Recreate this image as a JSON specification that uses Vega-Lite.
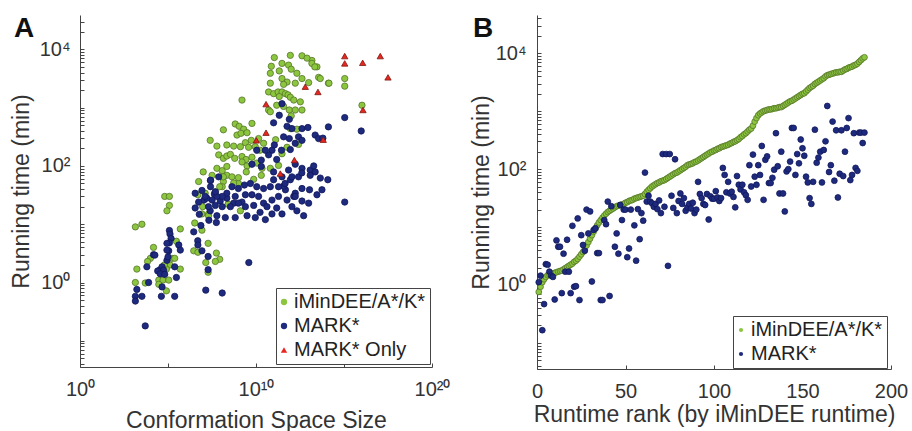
{
  "$schema": "https://vega.github.io/schema/vega-lite/v6.json",
  "background": "white",
  "padding": {"left": 10, "top": 8, "right": 0, "bottom": 0},
  "spacing": 20,
  "resolve": {"scale": {"color": "independent", "shape": "independent", "size": "independent", "stroke": "independent"}},
  "config": {
    "view": {"stroke": null},
    "font": "Liberation Sans",
    "axis": {
      "grid": false,
      "domainColor": "#444",
      "tickColor": "#444",
      "labelColor": "#333",
      "titleColor": "#333",
      "labelFont": "Liberation Sans",
      "titleFont": "Liberation Sans",
      "labelFontSize": 20,
      "titleFontSize": 23,
      "titleFontWeight": "normal",
      "labelFlush": false,
      "labelOverlap": false,
      "labelBound": false,
      "tickSize": -4,
      "domainWidth": 1,
      "tickWidth": 1
    },
    "legend": {
      "orient": "none",
      "padding": 4,
      "strokeColor": "#444",
      "fillColor": "white",
      "labelFont": "Liberation Sans",
      "labelFontSize": 20,
      "labelColor": "#222",
      "symbolSize": 18,
      "symbolStrokeWidth": 0,
      "rowPadding": 4,
      "labelOffset": 0,
      "symbolOffset": -6,
      "labelLimit": 400,
      "cornerRadius": 0
    }
  },
  "datasets": {
    "panelA": [
      {"size":8.9e11,"time":7900,"method":"iMinDEE/A*/K*"},{"size":4.1e12,"time":7760,"method":"iMinDEE/A*/K*"},{"size":1.1e11,"time":7240,"method":"iMinDEE/A*/K*"},{"size":3.0e11,"time":5750,"method":"iMinDEE/A*/K*"},{"size":7.1e11,"time":5370,"method":"iMinDEE/A*/K*"},{"size":1.5e13,"time":6460,"method":"iMinDEE/A*/K*"},{"size":7.4e10,"time":5130,"method":"iMinDEE/A*/K*"},{"size":2.1e11,"time":4270,"method":"iMinDEE/A*/K*"},{"size":1.0e12,"time":4570,"method":"iMinDEE/A*/K*"},{"size":2.1e12,"time":3890,"method":"iMinDEE/A*/K*"},{"size":2.9e13,"time":5010,"method":"iMinDEE/A*/K*"},{"size":4.1e12,"time":3160,"method":"iMinDEE/A*/K*"},{"size":3.6e13,"time":3310,"method":"iMinDEE/A*/K*"},{"size":1.3e14,"time":2630,"method":"iMinDEE/A*/K*"},{"size":6.5e10,"time":3890,"method":"iMinDEE/A*/K*"},{"size":3.0e11,"time":3160,"method":"iMinDEE/A*/K*"},{"size":5.8e11,"time":2750,"method":"iMinDEE/A*/K*"},{"size":3.7e11,"time":2510,"method":"iMinDEE/A*/K*"},{"size":1.7e12,"time":2630,"method":"iMinDEE/A*/K*"},{"size":9.8e12,"time":2690,"method":"iMinDEE/A*/K*"},{"size":6.5e10,"time":2630,"method":"iMinDEE/A*/K*"},{"size":5.2e10,"time":1860,"method":"iMinDEE/A*/K*"},{"size":1.0e11,"time":1740,"method":"iMinDEE/A*/K*"},{"size":1.8e11,"time":1860,"method":"iMinDEE/A*/K*"},{"size":3.0e11,"time":1860,"method":"iMinDEE/A*/K*"},{"size":4.7e11,"time":1740,"method":"iMinDEE/A*/K*"},{"size":6.6e11,"time":1660,"method":"iMinDEE/A*/K*"},{"size":8.9e11,"time":1510,"method":"iMinDEE/A*/K*"},{"size":1.4e12,"time":1350,"method":"iMinDEE/A*/K*"},{"size":2.1e11,"time":1550,"method":"iMinDEE/A*/K*"},{"size":1.5e11,"time":1100,"method":"iMinDEE/A*/K*"},{"size":3.7e11,"time":1050,"method":"iMinDEE/A*/K*"},{"size":7.8e11,"time":912,"method":"iMinDEE/A*/K*"},{"size":1.7e12,"time":912,"method":"iMinDEE/A*/K*"},{"size":4.1e12,"time":912,"method":"iMinDEE/A*/K*"},{"size":3.3e12,"time":1260,"method":"iMinDEE/A*/K*"},{"size":1.0e12,"time":724,"method":"iMinDEE/A*/K*"},{"size":2.1e12,"time":427,"method":"iMinDEE/A*/K*"},{"size":1.6e9,"time":1350,"method":"iMinDEE/A*/K*"},{"size":5.2e10,"time":912,"method":"iMinDEE/A*/K*"},{"size":6.5e10,"time":851,"method":"iMinDEE/A*/K*"},
      {"size":1.4e8,"time":417,"method":"iMinDEE/A*/K*"},{"size":6.6e8,"time":525,"method":"iMinDEE/A*/K*"},{"size":1.1e9,"time":479,"method":"iMinDEE/A*/K*"},{"size":2.0e9,"time":427,"method":"iMinDEE/A*/K*"},{"size":5.9e9,"time":537,"method":"iMinDEE/A*/K*"},{"size":8.3e8,"time":339,"method":"iMinDEE/A*/K*"},{"size":1.4e9,"time":363,"method":"iMinDEE/A*/K*"},{"size":3.1e9,"time":372,"method":"iMinDEE/A*/K*"},{"size":5.4e9,"time":275,"method":"iMinDEE/A*/K*"},{"size":1.4e10,"time":295,"method":"iMinDEE/A*/K*"},{"size":2.7e10,"time":245,"method":"iMinDEE/A*/K*"},{"size":1.3e11,"time":282,"method":"iMinDEE/A*/K*"},{"size":2.5e7,"time":275,"method":"iMinDEE/A*/K*"},{"size":6.0e7,"time":219,"method":"iMinDEE/A*/K*"},{"size":2.2e8,"time":229,"method":"iMinDEE/A*/K*"},{"size":5.4e8,"time":219,"method":"iMinDEE/A*/K*"},{"size":1.3e9,"time":214,"method":"iMinDEE/A*/K*"},{"size":2.5e9,"time":251,"method":"iMinDEE/A*/K*"},{"size":3.8e9,"time":209,"method":"iMinDEE/A*/K*"},{"size":9.1e9,"time":214,"method":"iMinDEE/A*/K*"},{"size":1.7e10,"time":186,"method":"iMinDEE/A*/K*"},{"size":7.6e7,"time":155,"method":"iMinDEE/A*/K*"},{"size":1.4e8,"time":135,"method":"iMinDEE/A*/K*"},{"size":2.2e8,"time":148,"method":"iMinDEE/A*/K*"},{"size":3.5e8,"time":158,"method":"iMinDEE/A*/K*"},{"size":6.2e8,"time":135,"method":"iMinDEE/A*/K*"},{"size":1.6e9,"time":145,"method":"iMinDEE/A*/K*"},{"size":2.7e9,"time":129,"method":"iMinDEE/A*/K*"},{"size":5.9e9,"time":141,"method":"iMinDEE/A*/K*"},{"size":1.1e10,"time":112,"method":"iMinDEE/A*/K*"},{"size":6.0e7,"time":91,"method":"iMinDEE/A*/K*"},{"size":1.2e8,"time":83,"method":"iMinDEE/A*/K*"},{"size":2.2e8,"time":98,"method":"iMinDEE/A*/K*"},{"size":1.6e9,"time":117,"method":"iMinDEE/A*/K*"},{"size":3.1e9,"time":100,"method":"iMinDEE/A*/K*"},{"size":1.0e7,"time":79,"method":"iMinDEE/A*/K*"},{"size":3.2e7,"time":69,"method":"iMinDEE/A*/K*"},{"size":2.2e8,"time":69,"method":"iMinDEE/A*/K*"},{"size":1.4e8,"time":54,"method":"iMinDEE/A*/K*"},{"size":4.3e8,"time":65,"method":"iMinDEE/A*/K*"},{"size":1.0e9,"time":50,"method":"iMinDEE/A*/K*"},{"size":2.8e9,"time":79,"method":"iMinDEE/A*/K*"},{"size":7.4e9,"time":59,"method":"iMinDEE/A*/K*"},{"size":2.2e10,"time":91,"method":"iMinDEE/A*/K*"},{"size":2.0e10,"time":69,"method":"iMinDEE/A*/K*"},{"size":6.5e10,"time":91,"method":"iMinDEE/A*/K*"},{"size":1.9e11,"time":102,"method":"iMinDEE/A*/K*"},{"size":3.0e11,"time":162,"method":"iMinDEE/A*/K*"},{"size":5.8e11,"time":209,"method":"iMinDEE/A*/K*"},{"size":2.6e12,"time":234,"method":"iMinDEE/A*/K*"},{"size":8.9e11,"time":437,"method":"iMinDEE/A*/K*"},{"size":8.5e6,"time":15,"method":"iMinDEE/A*/K*"},{"size":2.0e7,"time":15,"method":"iMinDEE/A*/K*"},{"size":1.3e9,"time":17,"method":"iMinDEE/A*/K*"},{"size":1.2e8,"time":44,"method":"iMinDEE/A*/K*"},{"size":1.3e7,"time":34,"method":"iMinDEE/A*/K*"},{"size":4.9e7,"time":36,"method":"iMinDEE/A*/K*"},
      {"size":1.4e3,"time":9.0,"method":"iMinDEE/A*/K*"},{"size":3.3e3,"time":10,"method":"iMinDEE/A*/K*"},{"size":6.5e4,"time":30,"method":"iMinDEE/A*/K*"},{"size":1.2e5,"time":30,"method":"iMinDEE/A*/K*"},{"size":1.2e5,"time":21,"method":"iMinDEE/A*/K*"},{"size":8.7e4,"time":17,"method":"iMinDEE/A*/K*"},{"size":5.5e6,"time":54,"method":"iMinDEE/A*/K*"},{"size":5.0e5,"time":8.3,"method":"iMinDEE/A*/K*"},{"size":3.0e5,"time":5.1,"method":"iMinDEE/A*/K*"},{"size":1.5e4,"time":4.0,"method":"iMinDEE/A*/K*"},{"size":1.0e4,"time":2.6,"method":"iMinDEE/A*/K*"},{"size":6.9e3,"time":2.3,"method":"iMinDEE/A*/K*"},{"size":1.7e3,"time":1.7,"method":"iMinDEE/A*/K*"},{"size":1.7e5,"time":2.6,"method":"iMinDEE/A*/K*"},{"size":2.4e5,"time":2.6,"method":"iMinDEE/A*/K*"},{"size":1.3e5,"time":2.0,"method":"iMinDEE/A*/K*"},{"size":8.1e4,"time":1.7,"method":"iMinDEE/A*/K*"},{"size":5.0e5,"time":1.7,"method":"iMinDEE/A*/K*"},{"size":6.2e4,"time":2.0,"method":"iMinDEE/A*/K*"},{"size":1.4e3,"time":1.0,"method":"iMinDEE/A*/K*"},{"size":5.1e3,"time":0.98,"method":"iMinDEE/A*/K*"},{"size":3.0e4,"time":1.1,"method":"iMinDEE/A*/K*"},{"size":5.2e4,"time":1.1,"method":"iMinDEE/A*/K*"},{"size":1.1e5,"time":1.1,"method":"iMinDEE/A*/K*"},{"size":3.0e4,"time":0.93,"method":"iMinDEE/A*/K*"},{"size":8.1e4,"time":0.72,"method":"iMinDEE/A*/K*"},{"size":3.3e6,"time":10.5,"method":"iMinDEE/A*/K*"},{"size":8.5e6,"time":7.9,"method":"iMinDEE/A*/K*"},{"size":2.9e6,"time":3.5,"method":"iMinDEE/A*/K*"},{"size":5.0e6,"time":3.3,"method":"iMinDEE/A*/K*"},{"size":1.9e7,"time":4.7,"method":"iMinDEE/A*/K*"},{"size":5.6e7,"time":3.2,"method":"iMinDEE/A*/K*"},{"size":8.7e7,"time":2.5,"method":"iMinDEE/A*/K*"},{"size":4.9e7,"time":2.3,"method":"iMinDEE/A*/K*"},{"size":1.4e7,"time":2.2,"method":"iMinDEE/A*/K*"},{"size":1.9e7,"time":1.5,"method":"iMinDEE/A*/K*"},{"size":5.0e6,"time":32,"method":"iMinDEE/A*/K*"},{"size":9.3e6,"time":20,"method":"iMinDEE/A*/K*"},{"size":2.0e7,"time":14,"method":"iMinDEE/A*/K*"},{"size":1.4e8,"time":65,"method":"iMinDEE/A*/K*"},{"size":8.7e7,"time":44,"method":"iMinDEE/A*/K*"},{"size":5.4e8,"time":51,"method":"iMinDEE/A*/K*"},{"size":1.0e9,"time":63,"method":"iMinDEE/A*/K*"},{"size":2.6e8,"time":22,"method":"iMinDEE/A*/K*"},
      {"size":1.4e14,"time":2630,"method":"iMinDEE/A*/K*"},{"size":1.1e15,"time":3160,"method":"iMinDEE/A*/K*"},{"size":1.1e15,"time":2340,"method":"iMinDEE/A*/K*"},{"size":1.05e16,"time":1100,"method":"iMinDEE/A*/K*"},{"size":4.5e13,"time":3160,"method":"iMinDEE/A*/K*"},{"size":1.5e13,"time":5750,"method":"iMinDEE/A*/K*"},{"size":2.2e13,"time":5010,"method":"iMinDEE/A*/K*"},{"size":7.9e12,"time":7080,"method":"iMinDEE/A*/K*"},
      {"size":5.1e3,"time":0.18,"method":"MARK*"},{"size":1.4e3,"time":0.58,"method":"MARK*"},{"size":1.4e3,"time":0.48,"method":"MARK*"},{"size":3.3e3,"time":0.58,"method":"MARK*"},{"size":1.7e3,"time":0.76,"method":"MARK*"},{"size":7.9e3,"time":1.0,"method":"MARK*"},{"size":1.5e4,"time":3.0,"method":"MARK*"},{"size":3.6e4,"time":1.66,"method":"MARK*"},{"size":4.6e4,"time":1.86,"method":"MARK*"},{"size":8.7e4,"time":2.4,"method":"MARK*"},{"size":1.0e5,"time":2.75,"method":"MARK*"},{"size":1.1e5,"time":3.5,"method":"MARK*"},{"size":8.7e4,"time":3.6,"method":"MARK*"},{"size":1.2e5,"time":7.8,"method":"MARK*"},{"size":1.3e5,"time":6.8,"method":"MARK*"},{"size":1.5e5,"time":5.7,"method":"MARK*"},{"size":1.2e5,"time":4.8,"method":"MARK*"},{"size":8.7e4,"time":4.7,"method":"MARK*"},{"size":4.1e5,"time":4.4,"method":"MARK*"},{"size":5.0e5,"time":3.6,"method":"MARK*"},{"size":2.4e5,"time":1.86,"method":"MARK*"},{"size":5.6e4,"time":1.62,"method":"MARK*"},{"size":2.6e4,"time":1.58,"method":"MARK*"},{"size":3.6e4,"time":1.41,"method":"MARK*"},{"size":6.5e4,"time":1.38,"method":"MARK*"},{"size":3.0e5,"time":1.22,"method":"MARK*"},{"size":4.2e4,"time":0.58,"method":"MARK*"},{"size":2.4e5,"time":0.58,"method":"MARK*"},{"size":4.9e6,"time":5.2,"method":"MARK*"},{"size":5.0e6,"time":4.4,"method":"MARK*"},{"size":8.5e6,"time":3.5,"method":"MARK*"},{"size":1.9e7,"time":1.66,"method":"MARK*"},{"size":1.9e7,"time":2.8,"method":"MARK*"},{"size":1.4e7,"time":0.74,"method":"MARK*"},{"size":1.2e8,"time":0.66,"method":"MARK*"},{"size":2.9e6,"time":7.4,"method":"MARK*"},{"size":7.4e6,"time":9.5,"method":"MARK*"},{"size":6.0e6,"time":14.8,"method":"MARK*"},{"size":2.1e7,"time":11.7,"method":"MARK*"},{"size":5.6e7,"time":10.7,"method":"MARK*"},{"size":2.6e7,"time":56,"method":"MARK*"},{"size":4.3e7,"time":33,"method":"MARK*"},{"size":4.9e7,"time":21,"method":"MARK*"},{"size":1.1e7,"time":26,"method":"MARK*"},{"size":9.3e7,"time":25,"method":"MARK*"},{"size":2.2e8,"time":28,"method":"MARK*"},{"size":5.4e8,"time":23,"method":"MARK*"},{"size":1.6e9,"time":24,"method":"MARK*"},{"size":3.9e9,"time":2.2,"method":"MARK*"},{"size":4.6e4,"time":0.84,"method":"MARK*"},{"size":6.3e3,"time":1.86,"method":"MARK*"},{"size":1.8e4,"time":2.95,"method":"MARK*"},
      {"size":3.0e11,"time":1170,"method":"MARK*"},{"size":2.1e11,"time":741,"method":"MARK*"},{"size":1.0e11,"time":550,"method":"MARK*"},{"size":7.8e11,"time":631,"method":"MARK*"},{"size":5.8e11,"time":479,"method":"MARK*"},{"size":1.1e12,"time":437,"method":"MARK*"},{"size":4.1e12,"time":437,"method":"MARK*"},{"size":8.9e12,"time":457,"method":"MARK*"},{"size":2.6e12,"time":316,"method":"MARK*"},{"size":3.7e11,"time":316,"method":"MARK*"},{"size":7.8e11,"time":295,"method":"MARK*"},{"size":1.1e11,"time":229,"method":"MARK*"},{"size":2.8e11,"time":186,"method":"MARK*"},{"size":8.9e11,"time":191,"method":"MARK*"},{"size":1.7e12,"time":245,"method":"MARK*"},{"size":4.1e12,"time":275,"method":"MARK*"},{"size":2.3e13,"time":339,"method":"MARK*"},{"size":3.6e13,"time":295,"method":"MARK*"},{"size":1.3e14,"time":468,"method":"MARK*"},{"size":8.1e10,"time":186,"method":"MARK*"},{"size":5.2e10,"time":155,"method":"MARK*"},{"size":1.5e11,"time":129,"method":"MARK*"},{"size":1.1e10,"time":186,"method":"MARK*"},{"size":3.4e10,"time":186,"method":"MARK*"},{"size":2.0e10,"time":126,"method":"MARK*"},{"size":5.9e9,"time":107,"method":"MARK*"},{"size":2.0e10,"time":98,"method":"MARK*"},{"size":1.0e11,"time":79,"method":"MARK*"},{"size":7.1e11,"time":85,"method":"MARK*"},{"size":1.7e12,"time":107,"method":"MARK*"},{"size":4.1e12,"time":91,"method":"MARK*"},{"size":1.2e13,"time":85,"method":"MARK*"},{"size":2.3e13,"time":79,"method":"MARK*"},{"size":8.9e11,"time":58,"method":"MARK*"},{"size":3.0e11,"time":65,"method":"MARK*"},{"size":1.0e11,"time":58,"method":"MARK*"},{"size":2.6e12,"time":65,"method":"MARK*"},{"size":1.2e13,"time":69,"method":"MARK*"},{"size":4.5e13,"time":62,"method":"MARK*"},{"size":1.2e14,"time":58,"method":"MARK*"},{"size":4.7e11,"time":39,"method":"MARK*"},{"size":1.7e12,"time":34,"method":"MARK*"},{"size":4.1e12,"time":41,"method":"MARK*"},{"size":1.1e13,"time":39,"method":"MARK*"},{"size":3.7e11,"time":45,"method":"MARK*"},{"size":1.9e11,"time":44,"method":"MARK*"},{"size":6.5e10,"time":44,"method":"MARK*"},{"size":2.7e10,"time":41,"method":"MARK*"},{"size":1.1e10,"time":44,"method":"MARK*"},{"size":4.8e9,"time":50,"method":"MARK*"},{"size":2.2e9,"time":47,"method":"MARK*"},{"size":1.0e9,"time":41,"method":"MARK*"},{"size":4.3e8,"time":44,"method":"MARK*"},{"size":2.2e8,"time":34,"method":"MARK*"},{"size":1.2e8,"time":30,"method":"MARK*"},{"size":6.0e7,"time":30,"method":"MARK*"},{"size":3.2e7,"time":26,"method":"MARK*"},{"size":1.6e7,"time":28,"method":"MARK*"},{"size":6.6e8,"time":30,"method":"MARK*"},{"size":2.5e9,"time":32,"method":"MARK*"},{"size":5.9e9,"time":32,"method":"MARK*"},{"size":1.4e10,"time":30,"method":"MARK*"},{"size":2.7e10,"time":23,"method":"MARK*"},{"size":8.1e10,"time":26,"method":"MARK*"},{"size":1.9e11,"time":30,"method":"MARK*"},{"size":5.8e11,"time":26,"method":"MARK*"},{"size":1.4e12,"time":30,"method":"MARK*"},{"size":4.1e12,"time":25,"method":"MARK*"},{"size":9.8e12,"time":23,"method":"MARK*"},{"size":2.9e13,"time":32,"method":"MARK*"},{"size":5.6e13,"time":39,"method":"MARK*"},{"size":1.2e8,"time":20,"method":"MARK*"},{"size":3.5e8,"time":20,"method":"MARK*"},{"size":1.0e9,"time":23,"method":"MARK*"},{"size":2.5e9,"time":20,"method":"MARK*"},{"size":7.4e9,"time":21,"method":"MARK*"},{"size":1.7e10,"time":16,"method":"MARK*"},{"size":4.2e10,"time":20,"method":"MARK*"},{"size":8.1e10,"time":15,"method":"MARK*"},{"size":3.0e11,"time":15,"method":"MARK*"},{"size":1.1e12,"time":20,"method":"MARK*"},{"size":2.1e12,"time":17,"method":"MARK*"},{"size":5.1e12,"time":14,"method":"MARK*"},{"size":2.5e7,"time":17,"method":"MARK*"},{"size":6.0e7,"time":14,"method":"MARK*"},{"size":1.8e8,"time":13,"method":"MARK*"},{"size":6.6e8,"time":13,"method":"MARK*"},{"size":3.1e9,"time":14,"method":"MARK*"},{"size":9.1e9,"time":13,"method":"MARK*"},{"size":3.4e10,"time":12,"method":"MARK*"},
      {"size":3.5e6,"time":34,"method":"MARK*"},{"size":8.5e6,"time":38,"method":"MARK*"},{"size":5.5e6,"time":24,"method":"MARK*"},{"size":1.3e7,"time":30,"method":"MARK*"},{"size":2.6e7,"time":44,"method":"MARK*"},{"size":4.9e7,"time":36,"method":"MARK*"},{"size":3.5e6,"time":19,"method":"MARK*"},{"size":2.0e7,"time":20,"method":"MARK*"},{"size":2.6e7,"time":57,"method":"MARK*"},{"size":7.6e7,"time":65,"method":"MARK*"},
      {"size":1.1e15,"time":676,"method":"MARK*"},{"size":9.5e15,"time":398,"method":"MARK*"},{"size":1.1e15,"time":24,"method":"MARK*"},{"size":1.9e13,"time":100,"method":"MARK*"},{"size":1.7e12,"time":30,"method":"MARK*"},{"size":1.5e11,"time":19,"method":"MARK*"},{"size":4.5e11,"time":50,"method":"MARK*"},{"size":1.1e12,"time":65,"method":"MARK*"},{"size":4.0e12,"time":76,"method":"MARK*"},{"size":6.3e13,"time":300,"method":"MARK*"},
      {"size":1.1e15,"time":7670,"method":"MARK* Only"},{"size":1.1e15,"time":5750,"method":"MARK* Only"},{"size":1.15e16,"time":5890,"method":"MARK* Only"},{"size":1.15e17,"time":7670,"method":"MARK* Only"},{"size":3.16e17,"time":3310,"method":"MARK* Only"},{"size":1.2e16,"time":912,"method":"MARK* Only"},{"size":6.31e12,"time":2290,"method":"MARK* Only"},{"size":3.31e13,"time":1860,"method":"MARK* Only"},{"size":3.72e10,"time":1150,"method":"MARK* Only"},{"size":3.72e10,"time":372,"method":"MARK* Only"},{"size":1.05e10,"time":275,"method":"MARK* Only"},{"size":6.61e13,"time":282,"method":"MARK* Only"},{"size":1.51e12,"time":126,"method":"MARK* Only"},{"size":2.4e11,"time":74,"method":"MARK* Only"}
    ],
    "panelB": [
      {"rank":1,"time":0.759,"method":"iMinDEE/A*/K*"},{"rank":2,"time":0.933,"method":"iMinDEE/A*/K*"},{"rank":3,"time":1.12,"method":"iMinDEE/A*/K*"},{"rank":4,"time":1.26,"method":"iMinDEE/A*/K*"},{"rank":5,"time":1.38,"method":"iMinDEE/A*/K*"},{"rank":6,"time":1.48,"method":"iMinDEE/A*/K*"},{"rank":7,"time":1.51,"method":"iMinDEE/A*/K*"},{"rank":8,"time":1.55,"method":"iMinDEE/A*/K*"},{"rank":9,"time":1.58,"method":"iMinDEE/A*/K*"},{"rank":10,"time":1.62,"method":"iMinDEE/A*/K*"},{"rank":11,"time":1.66,"method":"iMinDEE/A*/K*"},{"rank":12,"time":1.7,"method":"iMinDEE/A*/K*"},{"rank":13,"time":1.74,"method":"iMinDEE/A*/K*"},{"rank":14,"time":1.78,"method":"iMinDEE/A*/K*"},{"rank":15,"time":1.86,"method":"iMinDEE/A*/K*"},{"rank":16,"time":1.95,"method":"iMinDEE/A*/K*"},{"rank":17,"time":2.04,"method":"iMinDEE/A*/K*"},{"rank":18,"time":2.14,"method":"iMinDEE/A*/K*"},{"rank":19,"time":2.24,"method":"iMinDEE/A*/K*"},{"rank":20,"time":2.34,"method":"iMinDEE/A*/K*"},{"rank":21,"time":2.51,"method":"iMinDEE/A*/K*"},{"rank":22,"time":2.63,"method":"iMinDEE/A*/K*"},{"rank":23,"time":2.82,"method":"iMinDEE/A*/K*"},{"rank":24,"time":3.09,"method":"iMinDEE/A*/K*"},{"rank":25,"time":3.39,"method":"iMinDEE/A*/K*"},{"rank":26,"time":3.72,"method":"iMinDEE/A*/K*"},{"rank":27,"time":4.17,"method":"iMinDEE/A*/K*"},{"rank":28,"time":4.79,"method":"iMinDEE/A*/K*"},{"rank":29,"time":5.5,"method":"iMinDEE/A*/K*"},{"rank":30,"time":6.31,"method":"iMinDEE/A*/K*"},{"rank":31,"time":7.24,"method":"iMinDEE/A*/K*"},{"rank":32,"time":8.32,"method":"iMinDEE/A*/K*"},{"rank":33,"time":9.33,"method":"iMinDEE/A*/K*"},{"rank":34,"time":10.7,"method":"iMinDEE/A*/K*"},{"rank":35,"time":12,"method":"iMinDEE/A*/K*"},{"rank":36,"time":13.2,"method":"iMinDEE/A*/K*"},{"rank":37,"time":14.5,"method":"iMinDEE/A*/K*"},{"rank":38,"time":15.8,"method":"iMinDEE/A*/K*"},{"rank":39,"time":17,"method":"iMinDEE/A*/K*"},{"rank":40,"time":18.2,"method":"iMinDEE/A*/K*"},{"rank":41,"time":19.1,"method":"iMinDEE/A*/K*"},{"rank":42,"time":20,"method":"iMinDEE/A*/K*"},{"rank":43,"time":20.9,"method":"iMinDEE/A*/K*"},{"rank":44,"time":21.9,"method":"iMinDEE/A*/K*"},{"rank":45,"time":22.9,"method":"iMinDEE/A*/K*"},{"rank":46,"time":23.4,"method":"iMinDEE/A*/K*"},{"rank":47,"time":24,"method":"iMinDEE/A*/K*"},{"rank":48,"time":24.5,"method":"iMinDEE/A*/K*"},{"rank":49,"time":25.1,"method":"iMinDEE/A*/K*"},{"rank":50,"time":26.3,"method":"iMinDEE/A*/K*"},{"rank":51,"time":26.9,"method":"iMinDEE/A*/K*"},{"rank":52,"time":28.2,"method":"iMinDEE/A*/K*"},{"rank":53,"time":28.8,"method":"iMinDEE/A*/K*"},{"rank":54,"time":29.5,"method":"iMinDEE/A*/K*"},{"rank":55,"time":30.9,"method":"iMinDEE/A*/K*"},{"rank":56,"time":31.6,"method":"iMinDEE/A*/K*"},{"rank":57,"time":32.4,"method":"iMinDEE/A*/K*"},{"rank":58,"time":33.1,"method":"iMinDEE/A*/K*"},{"rank":59,"time":33.9,"method":"iMinDEE/A*/K*"},{"rank":60,"time":34.7,"method":"iMinDEE/A*/K*"},{"rank":61,"time":37.2,"method":"iMinDEE/A*/K*"},{"rank":62,"time":40.7,"method":"iMinDEE/A*/K*"},{"rank":63,"time":43.7,"method":"iMinDEE/A*/K*"},{"rank":64,"time":46.8,"method":"iMinDEE/A*/K*"},{"rank":65,"time":50.1,"method":"iMinDEE/A*/K*"},{"rank":66,"time":52.5,"method":"iMinDEE/A*/K*"},{"rank":67,"time":55,"method":"iMinDEE/A*/K*"},{"rank":68,"time":57.5,"method":"iMinDEE/A*/K*"},{"rank":69,"time":58.9,"method":"iMinDEE/A*/K*"},{"rank":70,"time":61.7,"method":"iMinDEE/A*/K*"},{"rank":71,"time":63.1,"method":"iMinDEE/A*/K*"},{"rank":72,"time":64.6,"method":"iMinDEE/A*/K*"},{"rank":73,"time":67.6,"method":"iMinDEE/A*/K*"},{"rank":74,"time":70.8,"method":"iMinDEE/A*/K*"},{"rank":75,"time":74.1,"method":"iMinDEE/A*/K*"},{"rank":76,"time":77.6,"method":"iMinDEE/A*/K*"},{"rank":77,"time":81.3,"method":"iMinDEE/A*/K*"},{"rank":78,"time":85.1,"method":"iMinDEE/A*/K*"},{"rank":79,"time":87.1,"method":"iMinDEE/A*/K*"},{"rank":80,"time":91.2,"method":"iMinDEE/A*/K*"},{"rank":81,"time":95.5,"method":"iMinDEE/A*/K*"},{"rank":82,"time":100,"method":"iMinDEE/A*/K*"},{"rank":83,"time":105,"method":"iMinDEE/A*/K*"},{"rank":84,"time":110,"method":"iMinDEE/A*/K*"},{"rank":85,"time":117,"method":"iMinDEE/A*/K*"},{"rank":86,"time":120,"method":"iMinDEE/A*/K*"},{"rank":87,"time":123,"method":"iMinDEE/A*/K*"},{"rank":88,"time":126,"method":"iMinDEE/A*/K*"},{"rank":89,"time":132,"method":"iMinDEE/A*/K*"},{"rank":90,"time":135,"method":"iMinDEE/A*/K*"},{"rank":91,"time":141,"method":"iMinDEE/A*/K*"},{"rank":92,"time":148,"method":"iMinDEE/A*/K*"},{"rank":93,"time":155,"method":"iMinDEE/A*/K*"},{"rank":94,"time":162,"method":"iMinDEE/A*/K*"},{"rank":95,"time":170,"method":"iMinDEE/A*/K*"},{"rank":96,"time":178,"method":"iMinDEE/A*/K*"},{"rank":97,"time":186,"method":"iMinDEE/A*/K*"},{"rank":98,"time":195,"method":"iMinDEE/A*/K*"},{"rank":99,"time":200,"method":"iMinDEE/A*/K*"},{"rank":100,"time":209,"method":"iMinDEE/A*/K*"},{"rank":101,"time":214,"method":"iMinDEE/A*/K*"},{"rank":102,"time":224,"method":"iMinDEE/A*/K*"},{"rank":103,"time":229,"method":"iMinDEE/A*/K*"},{"rank":104,"time":240,"method":"iMinDEE/A*/K*"},{"rank":105,"time":245,"method":"iMinDEE/A*/K*"},{"rank":106,"time":251,"method":"iMinDEE/A*/K*"},{"rank":107,"time":257,"method":"iMinDEE/A*/K*"},{"rank":108,"time":263,"method":"iMinDEE/A*/K*"},{"rank":109,"time":275,"method":"iMinDEE/A*/K*"},{"rank":110,"time":282,"method":"iMinDEE/A*/K*"},{"rank":111,"time":295,"method":"iMinDEE/A*/K*"},{"rank":112,"time":302,"method":"iMinDEE/A*/K*"},{"rank":113,"time":316,"method":"iMinDEE/A*/K*"},{"rank":114,"time":331,"method":"iMinDEE/A*/K*"},{"rank":115,"time":355,"method":"iMinDEE/A*/K*"},{"rank":116,"time":372,"method":"iMinDEE/A*/K*"},{"rank":117,"time":398,"method":"iMinDEE/A*/K*"},{"rank":118,"time":417,"method":"iMinDEE/A*/K*"},{"rank":119,"time":447,"method":"iMinDEE/A*/K*"},{"rank":120,"time":479,"method":"iMinDEE/A*/K*"},{"rank":121,"time":501,"method":"iMinDEE/A*/K*"},{"rank":122,"time":562,"method":"iMinDEE/A*/K*"},{"rank":123,"time":661,"method":"iMinDEE/A*/K*"},{"rank":124,"time":759,"method":"iMinDEE/A*/K*"},{"rank":125,"time":851,"method":"iMinDEE/A*/K*"},{"rank":126,"time":912,"method":"iMinDEE/A*/K*"},{"rank":127,"time":955,"method":"iMinDEE/A*/K*"},{"rank":128,"time":1000,"method":"iMinDEE/A*/K*"},{"rank":129,"time":1023,"method":"iMinDEE/A*/K*"},{"rank":130,"time":1047,"method":"iMinDEE/A*/K*"},{"rank":131,"time":1072,"method":"iMinDEE/A*/K*"},{"rank":132,"time":1072,"method":"iMinDEE/A*/K*"},{"rank":133,"time":1096,"method":"iMinDEE/A*/K*"},{"rank":134,"time":1122,"method":"iMinDEE/A*/K*"},{"rank":135,"time":1122,"method":"iMinDEE/A*/K*"},{"rank":136,"time":1148,"method":"iMinDEE/A*/K*"},{"rank":137,"time":1175,"method":"iMinDEE/A*/K*"},{"rank":138,"time":1175,"method":"iMinDEE/A*/K*"},{"rank":139,"time":1230,"method":"iMinDEE/A*/K*"},{"rank":140,"time":1288,"method":"iMinDEE/A*/K*"},{"rank":141,"time":1349,"method":"iMinDEE/A*/K*"},{"rank":142,"time":1413,"method":"iMinDEE/A*/K*"},{"rank":143,"time":1479,"method":"iMinDEE/A*/K*"},{"rank":144,"time":1514,"method":"iMinDEE/A*/K*"},{"rank":145,"time":1585,"method":"iMinDEE/A*/K*"},{"rank":146,"time":1660,"method":"iMinDEE/A*/K*"},{"rank":147,"time":1738,"method":"iMinDEE/A*/K*"},{"rank":148,"time":1820,"method":"iMinDEE/A*/K*"},{"rank":149,"time":1905,"method":"iMinDEE/A*/K*"},{"rank":150,"time":1995,"method":"iMinDEE/A*/K*"},{"rank":151,"time":2042,"method":"iMinDEE/A*/K*"},{"rank":152,"time":2188,"method":"iMinDEE/A*/K*"},{"rank":153,"time":2344,"method":"iMinDEE/A*/K*"},{"rank":154,"time":2512,"method":"iMinDEE/A*/K*"},{"rank":155,"time":2630,"method":"iMinDEE/A*/K*"},{"rank":156,"time":2754,"method":"iMinDEE/A*/K*"},{"rank":157,"time":2951,"method":"iMinDEE/A*/K*"},{"rank":158,"time":3090,"method":"iMinDEE/A*/K*"},{"rank":159,"time":3236,"method":"iMinDEE/A*/K*"},{"rank":160,"time":3388,"method":"iMinDEE/A*/K*"},{"rank":161,"time":3548,"method":"iMinDEE/A*/K*"},{"rank":162,"time":3715,"method":"iMinDEE/A*/K*"},{"rank":163,"time":3981,"method":"iMinDEE/A*/K*"},{"rank":164,"time":4169,"method":"iMinDEE/A*/K*"},{"rank":165,"time":4266,"method":"iMinDEE/A*/K*"},{"rank":166,"time":4365,"method":"iMinDEE/A*/K*"},{"rank":167,"time":4467,"method":"iMinDEE/A*/K*"},{"rank":168,"time":4571,"method":"iMinDEE/A*/K*"},{"rank":169,"time":4677,"method":"iMinDEE/A*/K*"},{"rank":170,"time":4677,"method":"iMinDEE/A*/K*"},{"rank":171,"time":4786,"method":"iMinDEE/A*/K*"},{"rank":172,"time":4786,"method":"iMinDEE/A*/K*"},{"rank":173,"time":5012,"method":"iMinDEE/A*/K*"},{"rank":174,"time":5248,"method":"iMinDEE/A*/K*"},{"rank":175,"time":5370,"method":"iMinDEE/A*/K*"},{"rank":176,"time":5623,"method":"iMinDEE/A*/K*"},{"rank":177,"time":5754,"method":"iMinDEE/A*/K*"},{"rank":178,"time":5888,"method":"iMinDEE/A*/K*"},{"rank":179,"time":6166,"method":"iMinDEE/A*/K*"},{"rank":180,"time":6310,"method":"iMinDEE/A*/K*"},{"rank":181,"time":6607,"method":"iMinDEE/A*/K*"},{"rank":182,"time":7079,"method":"iMinDEE/A*/K*"},{"rank":183,"time":7586,"method":"iMinDEE/A*/K*"},{"rank":184,"time":8128,"method":"iMinDEE/A*/K*"},{"rank":185,"time":8511,"method":"iMinDEE/A*/K*"},
      {"rank":1,"time":1.12,"method":"MARK*"},{"rank":2,"time":1.45,"method":"MARK*"},{"rank":3,"time":0.166,"method":"MARK*"},{"rank":4,"time":0.468,"method":"MARK*"},{"rank":5,"time":2.29,"method":"MARK*"},{"rank":6,"time":2.24,"method":"MARK*"},{"rank":7,"time":1.7,"method":"MARK*"},{"rank":8,"time":1.45,"method":"MARK*"},{"rank":9,"time":1.38,"method":"MARK*"},{"rank":10,"time":0.562,"method":"MARK*"},{"rank":11,"time":5.89,"method":"MARK*"},{"rank":12,"time":4.57,"method":"MARK*"},{"rank":13,"time":4.57,"method":"MARK*"},{"rank":14,"time":0.724,"method":"MARK*"},{"rank":15,"time":3.47,"method":"MARK*"},{"rank":16,"time":1.7,"method":"MARK*"},{"rank":17,"time":6.03,"method":"MARK*"},{"rank":18,"time":1.7,"method":"MARK*"},{"rank":19,"time":0.724,"method":"MARK*"},{"rank":20,"time":10.5,"method":"MARK*"},{"rank":21,"time":0.933,"method":"MARK*"},{"rank":22,"time":0.955,"method":"MARK*"},{"rank":23,"time":14.1,"method":"MARK*"},{"rank":24,"time":0.55,"method":"MARK*"},{"rank":25,"time":7.24,"method":"MARK*"},{"rank":26,"time":4.9,"method":"MARK*"},{"rank":27,"time":3.89,"method":"MARK*"},{"rank":28,"time":20,"method":"MARK*"},{"rank":29,"time":7.76,"method":"MARK*"},{"rank":30,"time":18.6,"method":"MARK*"},{"rank":31,"time":1.15,"method":"MARK*"},{"rank":32,"time":8.91,"method":"MARK*"},{"rank":33,"time":9.55,"method":"MARK*"},{"rank":34,"time":3.55,"method":"MARK*"},{"rank":35,"time":3.55,"method":"MARK*"},{"rank":36,"time":0.55,"method":"MARK*"},{"rank":37,"time":0.55,"method":"MARK*"},{"rank":38,"time":13.2,"method":"MARK*"},{"rank":39,"time":11.2,"method":"MARK*"},{"rank":40,"time":27.5,"method":"MARK*"},{"rank":41,"time":0.646,"method":"MARK*"},{"rank":42,"time":22.9,"method":"MARK*"},{"rank":44,"time":4.57,"method":"MARK*"},{"rank":45,"time":7.76,"method":"MARK*"},{"rank":46,"time":3.47,"method":"MARK*"},{"rank":47,"time":24,"method":"MARK*"},{"rank":48,"time":13.2,"method":"MARK*"},{"rank":49,"time":20,"method":"MARK*"},{"rank":50,"time":20,"method":"MARK*"},{"rank":51,"time":3.02,"method":"MARK*"},{"rank":52,"time":4.27,"method":"MARK*"},{"rank":53,"time":20,"method":"MARK*"},{"rank":55,"time":10.7,"method":"MARK*"},{"rank":56,"time":2.63,"method":"MARK*"},{"rank":57,"time":20.4,"method":"MARK*"},{"rank":58,"time":6.17,"method":"MARK*"},{"rank":59,"time":17.4,"method":"MARK*"},{"rank":60,"time":12.9,"method":"MARK*"},{"rank":61,"time":87.1,"method":"MARK*"},{"rank":62,"time":27.5,"method":"MARK*"},{"rank":63,"time":34.7,"method":"MARK*"},{"rank":64,"time":27.5,"method":"MARK*"},{"rank":65,"time":25.7,"method":"MARK*"},{"rank":66,"time":22.4,"method":"MARK*"},{"rank":67,"time":25.1,"method":"MARK*"},{"rank":68,"time":20.4,"method":"MARK*"},{"rank":69,"time":28.8,"method":"MARK*"},{"rank":70,"time":17.4,"method":"MARK*"},{"rank":71,"time":182,"method":"MARK*"},{"rank":72,"time":22.4,"method":"MARK*"},{"rank":73,"time":182,"method":"MARK*"},{"rank":74,"time":2.14,"method":"MARK*"},{"rank":75,"time":182,"method":"MARK*"},{"rank":76,"time":34.7,"method":"MARK*"},{"rank":77,"time":21.4,"method":"MARK*"},{"rank":78,"time":148,"method":"MARK*"},{"rank":79,"time":17.4,"method":"MARK*"},{"rank":80,"time":28.2,"method":"MARK*"},{"rank":81,"time":38,"method":"MARK*"},{"rank":82,"time":25.1,"method":"MARK*"},{"rank":83,"time":31.6,"method":"MARK*"},{"rank":84,"time":19.1,"method":"MARK*"},{"rank":85,"time":21.9,"method":"MARK*"},{"rank":86,"time":25.1,"method":"MARK*"},{"rank":87,"time":20.9,"method":"MARK*"},{"rank":88,"time":26.3,"method":"MARK*"},{"rank":89,"time":17.4,"method":"MARK*"},{"rank":90,"time":20,"method":"MARK*"},{"rank":91,"time":60.3,"method":"MARK*"},{"rank":92,"time":37.2,"method":"MARK*"},{"rank":93,"time":31.6,"method":"MARK*"},{"rank":94,"time":25.1,"method":"MARK*"},{"rank":95,"time":24,"method":"MARK*"},{"rank":96,"time":37.2,"method":"MARK*"},{"rank":97,"time":13.5,"method":"MARK*"},{"rank":98,"time":33.9,"method":"MARK*"},{"rank":99,"time":30.9,"method":"MARK*"},{"rank":100,"time":30.9,"method":"MARK*"},{"rank":101,"time":41.7,"method":"MARK*"},{"rank":102,"time":32.4,"method":"MARK*"},{"rank":103,"time":28.2,"method":"MARK*"},{"rank":104,"time":31.6,"method":"MARK*"},{"rank":105,"time":105,"method":"MARK*"},{"rank":106,"time":79.4,"method":"MARK*"},{"rank":107,"time":39.8,"method":"MARK*"},{"rank":108,"time":60.3,"method":"MARK*"},{"rank":109,"time":38,"method":"MARK*"},{"rank":110,"time":40.7,"method":"MARK*"},{"rank":111,"time":33.1,"method":"MARK*"},{"rank":112,"time":21.9,"method":"MARK*"},{"rank":113,"time":75.9,"method":"MARK*"},{"rank":114,"time":53.7,"method":"MARK*"},{"rank":115,"time":44.7,"method":"MARK*"},{"rank":116,"time":53.7,"method":"MARK*"},{"rank":117,"time":39.8,"method":"MARK*"},{"rank":118,"time":35.5,"method":"MARK*"},{"rank":119,"time":29.5,"method":"MARK*"},{"rank":120,"time":117,"method":"MARK*"},{"rank":121,"time":50.1,"method":"MARK*"},{"rank":122,"time":178,"method":"MARK*"},{"rank":123,"time":74.1,"method":"MARK*"},{"rank":124,"time":53.7,"method":"MARK*"},{"rank":125,"time":117,"method":"MARK*"},{"rank":126,"time":79.4,"method":"MARK*"},{"rank":127,"time":251,"method":"MARK*"},{"rank":128,"time":29.5,"method":"MARK*"},{"rank":129,"time":145,"method":"MARK*"},{"rank":130,"time":166,"method":"MARK*"},{"rank":131,"time":57.5,"method":"MARK*"},{"rank":132,"time":57.5,"method":"MARK*"},{"rank":133,"time":70.8,"method":"MARK*"},{"rank":134,"time":97.7,"method":"MARK*"},{"rank":135,"time":417,"method":"MARK*"},{"rank":136,"time":112,"method":"MARK*"},{"rank":137,"time":38,"method":"MARK*"},{"rank":138,"time":200,"method":"MARK*"},{"rank":139,"time":38,"method":"MARK*"},{"rank":140,"time":18.6,"method":"MARK*"},{"rank":141,"time":91.2,"method":"MARK*"},{"rank":142,"time":100,"method":"MARK*"},{"rank":143,"time":135,"method":"MARK*"},{"rank":144,"time":513,"method":"MARK*"},{"rank":145,"time":513,"method":"MARK*"},{"rank":146,"time":79.4,"method":"MARK*"},{"rank":147,"time":182,"method":"MARK*"},{"rank":148,"time":126,"method":"MARK*"},{"rank":149,"time":324,"method":"MARK*"},{"rank":150,"time":229,"method":"MARK*"},{"rank":151,"time":170,"method":"MARK*"},{"rank":152,"time":74.1,"method":"MARK*"},{"rank":153,"time":58.9,"method":"MARK*"},{"rank":154,"time":31.6,"method":"MARK*"},{"rank":155,"time":25.1,"method":"MARK*"},{"rank":156,"time":60.3,"method":"MARK*"},{"rank":157,"time":479,"method":"MARK*"},{"rank":158,"time":129,"method":"MARK*"},{"rank":159,"time":158,"method":"MARK*"},{"rank":160,"time":200,"method":"MARK*"},{"rank":161,"time":58.9,"method":"MARK*"},{"rank":162,"time":214,"method":"MARK*"},{"rank":163,"time":302,"method":"MARK*"},{"rank":164,"time":1230,"method":"MARK*"},{"rank":165,"time":89.1,"method":"MARK*"},{"rank":166,"time":117,"method":"MARK*"},{"rank":167,"time":661,"method":"MARK*"},{"rank":168,"time":63.1,"method":"MARK*"},{"rank":169,"time":468,"method":"MARK*"},{"rank":170,"time":32.4,"method":"MARK*"},{"rank":171,"time":83.2,"method":"MARK*"},{"rank":172,"time":468,"method":"MARK*"},{"rank":173,"time":75.9,"method":"MARK*"},{"rank":174,"time":200,"method":"MARK*"},{"rank":175,"time":513,"method":"MARK*"},{"rank":176,"time":759,"method":"MARK*"},{"rank":177,"time":64.6,"method":"MARK*"},{"rank":178,"time":79.4,"method":"MARK*"},{"rank":179,"time":417,"method":"MARK*"},{"rank":180,"time":105,"method":"MARK*"},{"rank":181,"time":93.3,"method":"MARK*"},{"rank":182,"time":427,"method":"MARK*"},{"rank":183,"time":427,"method":"MARK*"},{"rank":184,"time":282,"method":"MARK*"},{"rank":185,"time":427,"method":"MARK*"}
    ]
  },
  "hconcat": [
    {
      "width": 352,
      "height": 352,
      "title": {"text": "A", "orient": "left", "anchor": "end", "angle": 0, "align": "left", "baseline": "top", "frame": "group", "offset": -22, "dx": 2, "dy": 0, "fontSize": 28, "fontWeight": "bold", "color": "#111", "font": "Liberation Sans"},
      "data": {"name": "panelA"},
      "mark": {"type": "point", "filled": true, "strokeWidth": 0.8, "opacity": 1},
      "encoding": {
        "x": {"field": "size", "type": "quantitative", "scale": {"type": "log", "domain": [1, 1e20], "nice": false},
          "axis": {"title": "Conformation Space Size", "values": [1, 1e5, 1e10, 1e15, 1e20], "labelExpr": "datum.value == 1 ? '10⁰' : datum.value == 1e10 ? '10¹⁰' : datum.value == 1e20 ? '10²⁰' : ''", "labelPadding": 16, "titlePadding": 10}},
        "y": {"field": "time", "type": "quantitative", "scale": {"type": "log", "domain": [0.0355, 38900], "nice": false},
          "axis": {"title": "Running time (min)", "values": [0.04,0.05,0.06,0.07,0.08,0.09,0.1,0.2,0.3,0.4,0.5,0.6,0.7,0.8,0.9,1,2,3,4,5,6,7,8,9,10,20,30,40,50,60,70,80,90,100,200,300,400,500,600,700,800,900,1000,2000,3000,4000,5000,6000,7000,8000,9000,10000,20000,30000], "labelExpr": "datum.value == 1 ? '10⁰' : datum.value == 100 ? '10²' : datum.value == 10000 ? '10⁴' : ''", "labelPadding": 14, "titlePadding": 6}},
        "color": {"field": "method", "type": "nominal", "scale": {"domain": ["iMinDEE/A*/K*", "MARK*", "MARK* Only"], "range": ["#8cc63f", "#1e2a7e", "#e8251f"]}, "legend": {"title": null, "legendX": 196, "legendY": 273}},
        "shape": {"field": "method", "type": "nominal", "scale": {"domain": ["iMinDEE/A*/K*", "MARK*", "MARK* Only"], "range": ["circle", "circle", "triangle-up"]}, "legend": {"title": null, "legendX": 196, "legendY": 273}},
        "stroke": {"field": "method", "type": "nominal", "scale": {"domain": ["iMinDEE/A*/K*", "MARK*", "MARK* Only"], "range": ["#55752a", "#10185a", "#7a1a12"]}, "legend": null},
        "size": {"field": "method", "type": "nominal", "scale": {"domain": ["iMinDEE/A*/K*", "MARK*", "MARK* Only"], "range": [40, 40, 85]}, "legend": null}
      }
    },
    {
      "width": 354,
      "height": 354,
      "title": {"text": "B", "orient": "left", "anchor": "end", "angle": 0, "align": "left", "baseline": "top", "frame": "group", "offset": -22, "dx": 1, "dy": 0, "fontSize": 28, "fontWeight": "bold", "color": "#111", "font": "Liberation Sans"},
      "data": {"name": "panelB"},
      "mark": {"type": "point", "filled": true, "size": 34, "strokeWidth": 0.8, "opacity": 1},
      "encoding": {
        "x": {"field": "rank", "type": "quantitative", "scale": {"domain": [0, 200], "nice": false},
          "axis": {"title": "Runtime rank (by iMinDEE runtime)", "values": [0, 50, 100, 150, 200], "labelPadding": 16, "titlePadding": 2}},
        "y": {"field": "time", "type": "quantitative", "scale": {"type": "log", "domain": [0.0355, 45700], "nice": false},
          "axis": {"title": "Running time (min)", "values": [0.04,0.05,0.06,0.07,0.08,0.09,0.1,0.2,0.3,0.4,0.5,0.6,0.7,0.8,0.9,1,2,3,4,5,6,7,8,9,10,20,30,40,50,60,70,80,90,100,200,300,400,500,600,700,800,900,1000,2000,3000,4000,5000,6000,7000,8000,9000,10000,20000,30000,40000], "labelExpr": "datum.value == 1 ? '10⁰' : datum.value == 100 ? '10²' : datum.value == 10000 ? '10⁴' : ''", "labelPadding": 15, "titlePadding": 2}},
        "color": {"field": "method", "type": "nominal", "scale": {"domain": ["iMinDEE/A*/K*", "MARK*"], "range": ["#8cc63f", "#1e2a7e"]}, "legend": {"title": null, "legendX": 196, "legendY": 301}},
        "stroke": {"field": "method", "type": "nominal", "scale": {"domain": ["iMinDEE/A*/K*", "MARK*"], "range": ["#55752a", "#10185a"]}, "legend": null}
      }
    }
  ]
}
